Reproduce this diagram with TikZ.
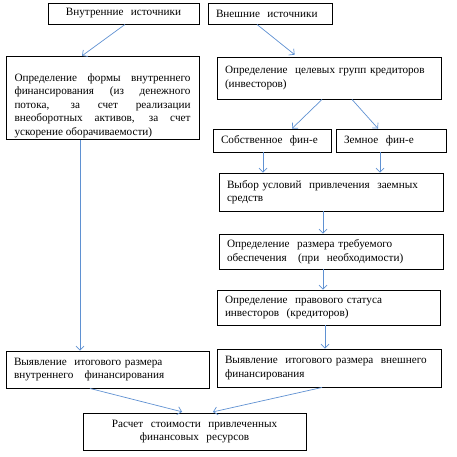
\documentclass[tikz,border=0pt]{standalone}
\usepackage{fontspec}
\setmainfont{Liberation Serif}
\newfontfamily\stagefont{Liberation Serif}
\usepackage{tikz}
\usetikzlibrary{positioning,calc,arrows.meta}

\definecolor{arrowblue}{RGB}{95,145,210}

\begin{document}
\begin{tikzpicture}[
    x=1pt, y=-1pt,
    stage/.style={draw, line width=0.9pt, inner xsep=8pt, inner ysep=2pt, align=left,
        font=\stagefont\fontsize{11.2}{13.5}\selectfont},
    flow/.style={draw=arrowblue, line width=0.7pt, -{Straight Barb[length=4pt,width=8pt]}}
]
\useasboundingbox (0,0) rectangle (457,456);

% Define node positions
\node[stage, align=center, minimum width=151pt, minimum height=21pt, text width=135pt] (IntSrc) at (123.5,13.5) {Внутренние\ \ источники};
\node[stage, minimum width=124pt, minimum height=21pt, text width=108pt] (ExtSrc) at (270,13.5) {Внешние\ \ источники};
\node[stage, align=justify, minimum width=193pt, minimum height=82pt, text width=176pt] (IntForm) at (102.5,98)
    {\rule{0pt}{23pt}Определение формы внутреннего\linebreak финансирования (из денежного\linebreak потока, за счет реализации\linebreak внеоборотных активов, за счет\linebreak ускорение оборачиваемости)};
\node[stage, minimum width=224pt, minimum height=42pt, text width=208pt] (Groups) at (329,78) {Определение\ \ целевых групп кредиторов\\(инвесторов)};
\node[stage, minimum width=118pt, minimum height=23pt, text width=102pt] (Own) at (272,140.5) {Собственное\ \ фин-е};
\node[stage, minimum width=110pt, minimum height=23pt, text width=94pt] (Loan) at (391,140.5) {Земное\ \ фин-е};
\node[stage, minimum width=224pt, minimum height=38pt, text width=208pt] (Terms) at (331,192) {Выбор условий\ \ привлечения\ \ заемных\\средств};
\node[stage, minimum width=224pt, minimum height=35pt, text width=208pt] (Collat) at (331,251.5) {Определение\ \ размера требуемого\\обеспечения\ \ \ (при\ \ необходимости)};
\node[stage, minimum width=223pt, minimum height=35pt, text width=207pt] (Status) at (328.5,307.5) {Определение\ \ правового статуса\\инвесторов\ \ (кредиторов)};
\node[stage, minimum width=203pt, minimum height=37pt, text width=187pt] (IntTotal) at (107.5,369.5) {Выявление\ \ итогового размера\\внутреннего\ \ \ финансирования};
\node[stage, minimum width=224pt, minimum height=38pt, text width=208pt] (ExtTotal) at (329,368) {Выявление\ \ итогового размера\ \ внешнего\\финансирования};
\node[stage, align=center, minimum width=223pt, minimum height=37pt, text width=207pt] (Cost) at (194.5,431.5) {Расчет\ \ стоимости\ \ привлеченных\\финансовых\ \ ресурсов};

% Draw slanted arrows
\draw[flow] ([xshift=1.5pt]IntSrc.south) -- ([xshift=-20.5pt]IntForm.north);
\draw[flow, shorten >=3pt] ([xshift=-13pt]ExtSrc.south) -- ([xshift=-32pt]Groups.north);
\draw[flow] ([xshift=-7pt]Groups.south) -- ([xshift=20pt]Own.north);
\draw[flow] ([xshift=23pt]Groups.south) -- ([xshift=-13pt]Loan.north);
\draw[flow, shorten >=3pt] ([xshift=-17.5pt]IntTotal.south) -- ([xshift=-9.5pt]Cost.north);
\draw[flow, shorten >=3pt] ([xshift=-7pt]ExtTotal.south) -- ([xshift=15.5pt]Cost.north);

% Draw vertical arrows
\draw[flow] ([xshift=-9pt]Own.south) -- ([xshift=-9pt]Own.south |- Terms.north);
\draw[flow] ([xshift=-11pt]Loan.south) -- ([xshift=-11pt]Loan.south |- Terms.north);
\draw[flow] ([xshift=-8pt]Terms.south) -- ([xshift=-8pt]Terms.south |- Collat.north);
\draw[flow] ([xshift=-8pt]Collat.south) -- ([xshift=-8pt]Collat.south |- Status.north);
\draw[flow] ([xshift=-3.5pt]Status.south) -- ([xshift=-3.5pt]Status.south |- ExtTotal.north);
\draw[flow] ([xshift=-22.5pt]IntForm.south) -- ([xshift=-22.5pt]IntForm.south |- IntTotal.north);

\end{tikzpicture}
\end{document}
